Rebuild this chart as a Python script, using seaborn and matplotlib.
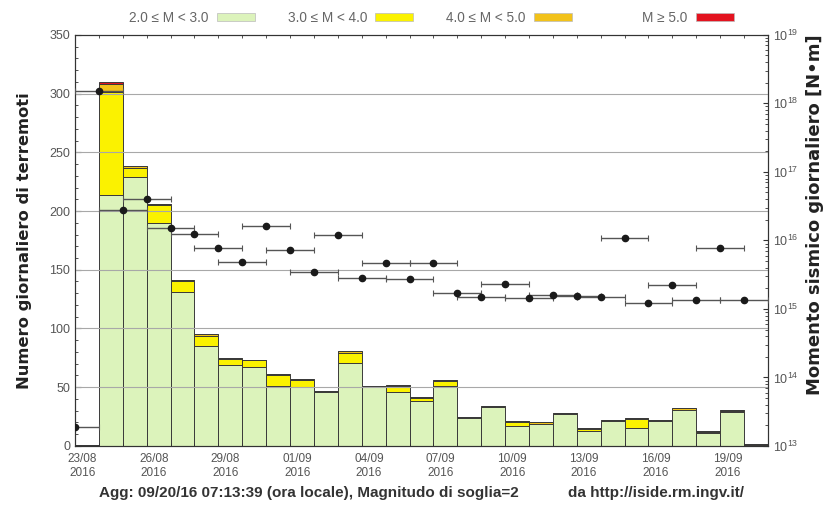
import numpy as np
import pandas as pd
import matplotlib
matplotlib.use('Agg')
import matplotlib.pyplot as plt
import matplotlib.ticker as mticker
import seaborn as sns
from matplotlib.patches import Patch

plt.rcParams['font.family'] = ['Liberation Sans', 'DejaVu Sans']

#%% Dati

# giorni dal 23/08/2016 al 20/09/2016
giorni = ['23/08', '24/08', '25/08', '26/08', '27/08', '28/08', '29/08', '30/08',
          '31/08', '01/09', '02/09', '03/09', '04/09', '05/09', '06/09', '07/09',
          '08/09', '09/09', '10/09', '11/09', '12/09', '13/09', '14/09', '15/09',
          '16/09', '17/09', '18/09', '19/09', '20/09']

n_m2 = [1, 214, 229, 190, 131, 85, 69, 67, 51, 50, 46, 71, 50, 46, 38, 51,
        24, 33, 17, 19, 27, 13, 21, 15, 21, 31, 11, 29, 1]
n_m3 = [0, 87, 8, 15, 9, 9, 5, 6, 9, 6, 0, 8, 0, 5, 3, 4,
        0, 0, 3, 0, 0, 1, 0, 8, 0, 0, 1, 1, 1]
n_m4 = [0, 7, 1, 1, 1, 1, 1, 0, 1, 1, 1, 2, 1, 1, 1, 1,
        1, 1, 1, 1, 1, 1, 1, 1, 1, 1, 1, 1, 0]
n_m5 = [0, 2, 0, 0, 0, 0, 0, 0, 0, 0, 0, 0, 0, 0, 0, 0,
        0, 0, 0, 0, 0, 0, 0, 0, 0, 0, 0, 0, 0]

# momento sismico giornaliero [N m]
momento = [1.9e13, 1.5e18, 2.8e16, 4.0e16, 1.5e16, 1.26e16, 7.8e15, 4.9e15,
           1.6e16, 7.2e15, 3.4e15, 1.2e16, 2.8e15, 4.6e15, 2.75e15, 4.6e15,
           1.7e15, 1.5e15, 2.3e15, 1.45e15, 1.6e15, 1.55e15, 1.5e15, 1.1e16,
           1.2e15, 2.2e15, 1.35e15, 7.8e15, 1.35e15]

classi = ['2.0 \u2264 M < 3.0', '3.0 \u2264 M < 4.0', '4.0 \u2264 M < 5.0', 'M \u2265 5.0']
colori = ['#dcf3bb', '#fbf200', '#f2c21a', '#e3131f']

#%% Tabella in formato lungo

giorno_idx = np.arange(len(giorni))
df = pd.concat([
    pd.DataFrame({'giorno': giorno_idx + 0.5, 'n': vals, 'classe': c})
    for vals, c in zip([n_m2, n_m3, n_m4, n_m5], classi)
], ignore_index=True)

#%% Grafico

fig = plt.figure(figsize=(8.24, 5.05), dpi=100)
ax = fig.add_axes([0.091, 0.117, 0.841, 0.814])

sns.histplot(data=df, x='giorno', weights='n', hue='classe', hue_order=classi[::-1],
             palette=dict(zip(classi, colori)), multiple='stack',
             binwidth=1, binrange=(0, len(giorni)), alpha=1, edgecolor='#3a3a3a',
             linewidth=0.7, legend=False, ax=ax)

ax.set_xlim(0, len(giorni))
ax.set_ylim(0, 350)
ax.set_yticks(np.arange(0, 351, 50))
ax.set_yticks(np.arange(0, 351, 10), minor=True)
ax.set_xticks(giorno_idx[::3] + 0.3)
ax.set_xticklabels([g + '\n2016' for g in giorni[::3]])
ax.set_xticks(giorno_idx, minor=True)
ax.tick_params(axis='both', which='both', direction='in', top=True, colors='#333',
               labelcolor='#555')
ax.tick_params(axis='x', which='major', length=0, labelsize=8.5, pad=5)
ax.tick_params(axis='y', which='both', right=False, labelsize=9)
ax.tick_params(axis='y', which='major', length=4)
ax.tick_params(which='minor', length=2)
ax.set_xlabel('')
ax.set_ylabel('Numero giornaliero di terremoti', fontsize=11.8, fontweight='bold',
              color='#222', labelpad=12, family='DejaVu Sans')
for yv in range(50, 301, 50):
    ax.axhline(yv, color='#a8a8a8', lw=0.8, zorder=3)
for s in ax.spines.values():
    s.set_color('#333')
    s.set_linewidth(0.8)

ax2 = ax.twinx()
ax2.errorbar(giorno_idx, momento, xerr=1, fmt='o', ms=4.5, color='#1a1a1a',
             ecolor='#555', elinewidth=1, capsize=2.5, capthick=0.8, zorder=5)
ax2.set_yscale('log')
ax2.set_ylim(1e13, 1e19)
ax2.set_xlim(0, len(giorni))
ax2.yaxis.set_minor_formatter(mticker.NullFormatter())
ax2.tick_params(axis='y', which='both', direction='in', colors='#333',
                labelcolor='#555', labelsize=9)
ax2.set_ylabel('Momento sismico giornaliero [N\u2022m]', fontsize=13,
               fontweight='bold', color='#222', family='DejaVu Sans')
ax2.yaxis.set_label_coords(1.055, 0.562)
for s in ax2.spines.values():
    s.set_color('#333')
    s.set_linewidth(0.8)

handles = [Patch(facecolor=c, edgecolor='#bbb', lw=0.5) for c in colori]
leg_kw = dict(loc='center', frameon=False, markerfirst=False, handlelength=2.8,
              handleheight=0.55, columnspacing=2.4, handletextpad=0.6,
              fontsize=9.8, labelcolor='#666')
fig.legend(handles[:3], classi[:3], ncol=3, bbox_to_anchor=(0.4254, 0.964), **leg_kw)
fig.legend(handles[3:], classi[3:], ncol=1, bbox_to_anchor=(0.835, 0.964), **leg_kw)

fig.text(0.120, 0.016, 'Agg: 09/20/16 07:13:39 (ora locale), Magnitudo di soglia=2',
         fontsize=11, fontweight='bold', color='#333')
fig.text(0.689, 0.016, 'da http://iside.rm.ingv.it/', fontsize=11,
         fontweight='bold', color='#333')

fig.savefig('out.png', dpi=100)
